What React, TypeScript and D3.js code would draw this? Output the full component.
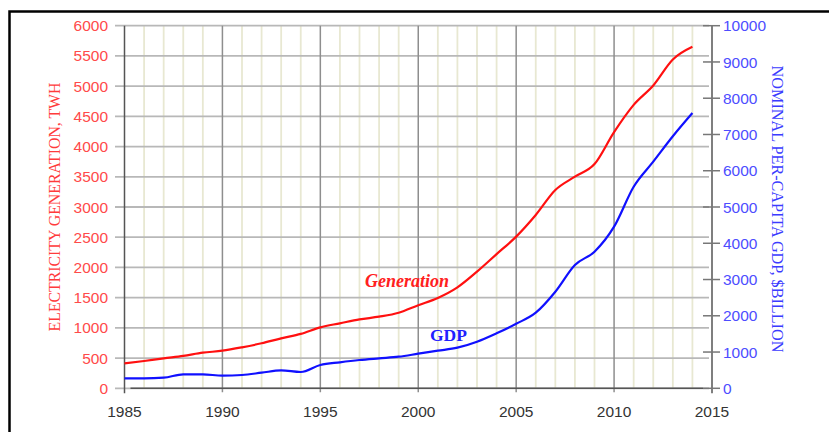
import React from 'react';
import * as d3 from 'd3';

const years = d3.range(1985, 2015);
// electricity generation, TWh (left axis)
const generation = [
  413, 452, 496, 536, 589, 622, 678, 745, 827, 900,
  1009, 1075, 1140, 1185, 1250, 1375, 1495, 1670, 1930, 2220,
  2510, 2868, 3281, 3502, 3710, 4240, 4690, 5010, 5440, 5650,
];
// nominal per-capita GDP (right axis)
const gdp = [
  276, 276, 292, 385, 386, 348, 367, 430, 496, 450,
  643, 717, 780, 827, 872, 954, 1037, 1120, 1285, 1517,
  1780, 2085, 2664, 3400, 3767, 4457, 5560, 6250, 6950, 7590,
];
const leftTicks = d3.range(0, 6001, 500);
const rightTicks = d3.range(0, 10001, 1000);
const xTicks = [1985, 1990, 1995, 2000, 2005, 2010, 2015];

const W = 829;
const H = 432;
const left = 124.5;
const right = 712;
const top = 25.7;
const bottom = 388.3;

const App: React.FC = () => {
  const x = d3.scaleLinear().domain([1985, 2015]).range([left, right]);
  const yL = d3.scaleLinear().domain([0, 6000]).range([bottom, top]);
  const yR = d3.scaleLinear().domain([0, 10000]).range([bottom, top]);

  const genLine = d3.line<number>().x((_, i) => x(years[i])).y((d) => yL(d)).curve(d3.curveMonotoneX);
  const gdpLine = d3.line<number>().x((_, i) => x(years[i])).y((d) => yR(d)).curve(d3.curveMonotoneX);

  const minorYears = d3.range(1986, 2015).filter((y) => y % 5 !== 0);

  return (
    <svg width={W} height={H} style={{ position: 'absolute', left: 0, top: 0, background: '#fff' }}>
      {/* frame */}
      <path d={`M9.5,${H} V11.5 H${W}`} fill="none" stroke="#000" strokeWidth={2.5} />

      {/* minor vertical grid */}
      {minorYears.map((yr) => (
        <line key={'m' + yr} x1={x(yr)} x2={x(yr)} y1={top} y2={bottom} stroke="#e8e8d2" strokeWidth={1.8} />
      ))}
      {/* horizontal grid */}
      {leftTicks.map((t) => (
        <line key={'h' + t} x1={115} x2={right - 3} y1={yL(t)} y2={yL(t)} stroke="#b8b8b8" strokeWidth={1.8} />
      ))}
      {/* major vertical grid */}
      {xTicks.slice(1, -1).map((yr) => (
        <line key={'M' + yr} x1={x(yr)} x2={x(yr)} y1={top} y2={bottom + 4} stroke="#8e8e8e" strokeWidth={1.5} />
      ))}

      {/* axes */}
      <line x1={left} x2={left} y1={top} y2={bottom + 5} stroke="#555" strokeWidth={1.5} />
      <line x1={right} x2={right} y1={top} y2={bottom + 5} stroke="#555" strokeWidth={1.5} />
      <line x1={left + 6} x2={right - 9} y1={bottom} y2={bottom} stroke="#555" strokeWidth={1.5} />
      {rightTicks.map((t) => (
        <line key={'rt' + t} x1={right - 9} x2={right + 8} y1={yR(t)} y2={yR(t)} stroke="#777" strokeWidth={1.5} />
      ))}

      {/* tick labels */}
      <g fontFamily="'Liberation Sans', Arial, sans-serif" fontSize={15.5}>
        {leftTicks.map((t) => (
          <text key={'lt' + t} x={108} y={yL(t)} dy="0.36em" textAnchor="end" fill="#ff4a4a">
            {t}
          </text>
        ))}
        {rightTicks.map((t) => (
          <text key={'rl' + t} x={723} y={yR(t)} dy="0.36em" textAnchor="start" fill="#4d4dff">
            {t}
          </text>
        ))}
        {xTicks.map((yr) => (
          <text key={'xl' + yr} x={x(yr)} y={417} textAnchor="middle" fill="#333">
            {yr}
          </text>
        ))}
      </g>

      {/* axis titles */}
      <text
        transform="translate(60,207) rotate(-90)"
        textAnchor="middle"
        fontFamily="'Liberation Serif', 'Times New Roman', serif"
        fontSize={15.8}
        fill="#ff3b3b"
      >
        ELECTRICITY GENERATION, TWH
      </text>
      <text
        transform="translate(772,209) rotate(90)"
        textAnchor="middle"
        fontFamily="'Liberation Serif', 'Times New Roman', serif"
        fontSize={16.2}
        fill="#3b3bff"
      >
        NOMINAL PER-CAPITA GDP, $BILLION
      </text>

      {/* series */}
      <path d={genLine(generation) ?? ''} fill="none" stroke="#ff1010" strokeWidth={2.2} />
      <path d={gdpLine(gdp) ?? ''} fill="none" stroke="#1010ff" strokeWidth={2.2} />

      {/* annotations */}
      <text x={365} y={287} fontFamily="'Liberation Serif', 'Times New Roman', serif" fontStyle="italic" fontWeight="bold" fontSize={18} fill="#ff2020">
        Generation
      </text>
      <text x={430} y={341} fontFamily="'Liberation Serif', 'Times New Roman', serif" fontWeight="bold" fontSize={17.5} fill="#2020ff">
        GDP
      </text>
    </svg>
  );
};

export default App;
